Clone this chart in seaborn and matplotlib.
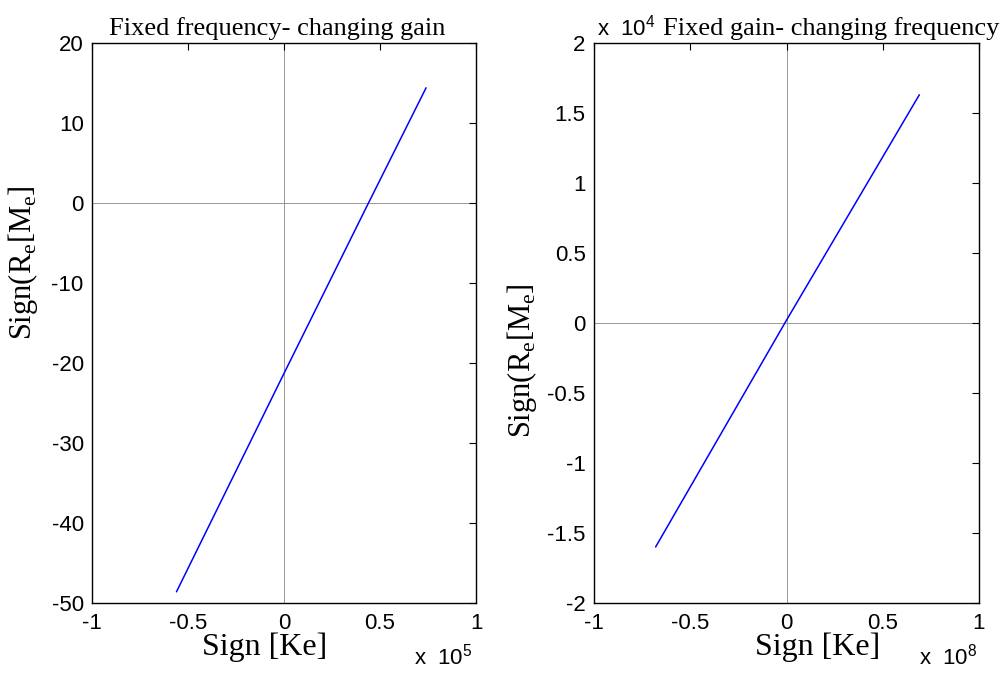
import numpy as np
import matplotlib
matplotlib.use("Agg")
import matplotlib.pyplot as plt
import seaborn as sns
from matplotlib.ticker import FuncFormatter

# values
gain_x = [-0.56e5, 0.0, 0.44e5, 0.74e5]
gain_y = [-48.6, -21.3, 0.0, 14.4]
freq_x = [-0.68e8, 0.0, 0.69e8]
freq_y = [-1.60e4, 0.02e4, 1.63e4]

left_xticks = [-1e5, -0.5e5, 0, 0.5e5, 1e5]
left_yticks = [-50, -40, -30, -20, -10, 0, 10, 20]
right_xticks = [-1e8, -0.5e8, 0, 0.5e8, 1e8]
right_yticks = [-2e4, -1.5e4, -1e4, -0.5e4, 0, 0.5e4, 1e4, 1.5e4, 2e4]

sns.set_style("white")
plt.rcParams['font.family'] = ['Liberation Sans', 'DejaVu Sans']
plt.rcParams['mathtext.fontset'] = 'custom'
plt.rcParams['mathtext.rm'] = 'Liberation Serif'
plt.rcParams['mathtext.sf'] = 'Liberation Sans'
plt.rcParams['text.color'] = 'black'
plt.rcParams['axes.labelcolor'] = 'black'

serif = ['Liberation Serif', 'DejaVu Serif']

fig = plt.figure(figsize=(10.08, 6.73), dpi=100)
ax1 = fig.add_axes([92/1008, 70/673, 384/1008, 560/673])
ax2 = fig.add_axes([594/1008, 70/673, 385/1008, 560/673])


def fmt(scale):
    def f(v, pos):
        return f"{v/scale:g}"
    return FuncFormatter(f)


def style(ax, xlim, ylim, xt, yt, xs, ys):
    ax.axhline(0, color='#888888', lw=0.6, zorder=0)
    ax.axvline(0, color='#888888', lw=0.6, zorder=0)
    ax.set_xlim(*xlim)
    ax.set_ylim(*ylim)
    ax.set_xticks(xt)
    ax.set_yticks(yt)
    ax.xaxis.set_major_formatter(fmt(xs))
    ax.yaxis.set_major_formatter(fmt(ys))
    ax.tick_params(direction='in', length=5, width=0.8, top=True, right=True,
                   labelsize=16, colors='black')
    ax.tick_params(axis='x', pad=7)
    ax.tick_params(axis='y', pad=6)
    for sp in ax.spines.values():
        sp.set_visible(True)
        sp.set_color('black')
        sp.set_linewidth(1.0)


sns.lineplot(x=gain_x, y=gain_y, ax=ax1, color='blue', linewidth=1.1,
             estimator=None, sort=False)
style(ax1, (-1e5, 1e5), (-50, 20), left_xticks, left_yticks, 1e5, 1)
ax1.set_xlabel("Sign [Ke]", family=serif, fontsize=23)
ax1.set_ylabel(r"Sign(R$_\mathrm{e}$[M$_\mathrm{e}$]", family=serif, fontsize=22)
ax1.xaxis.set_label_coords(0.45, -0.052)
ax1.yaxis.set_label_coords(-0.135, 0.607)
ax1.text(0.482, 1.014, "Fixed frequency- changing gain", transform=ax1.transAxes,
         ha='center', va='baseline', family=serif, fontsize=19)
ax1.text(0.992, -0.11, r"x  10$^{\mathsf{5}}$", transform=ax1.transAxes,
         ha='right', va='baseline', fontsize=16)

sns.lineplot(x=freq_x, y=freq_y, ax=ax2, color='blue', linewidth=1.1,
             estimator=None, sort=False)
style(ax2, (-1e8, 1e8), (-2e4, 2e4), right_xticks, right_yticks, 1e8, 1e4)
ax2.set_xlabel("Sign [Ke]", family=serif, fontsize=23)
ax2.set_ylabel(r"Sign(R$_\mathrm{e}$[M$_\mathrm{e}$]", family=serif, fontsize=22)
ax2.xaxis.set_label_coords(0.58, -0.052)
ax2.yaxis.set_label_coords(-0.143, 0.432)
ax2.text(0.616, 1.014, "Fixed gain- changing frequency", transform=ax2.transAxes,
         ha='center', va='baseline', family=serif, fontsize=19)
ax2.text(0.008, 1.014, r"x  10$^{\mathsf{4}}$", transform=ax2.transAxes,
         ha='left', va='baseline', fontsize=16)
ax2.text(0.997, -0.11, r"x  10$^{\mathsf{8}}$", transform=ax2.transAxes,
         ha='right', va='baseline', fontsize=16)

fig.savefig("out.png", dpi=100)
